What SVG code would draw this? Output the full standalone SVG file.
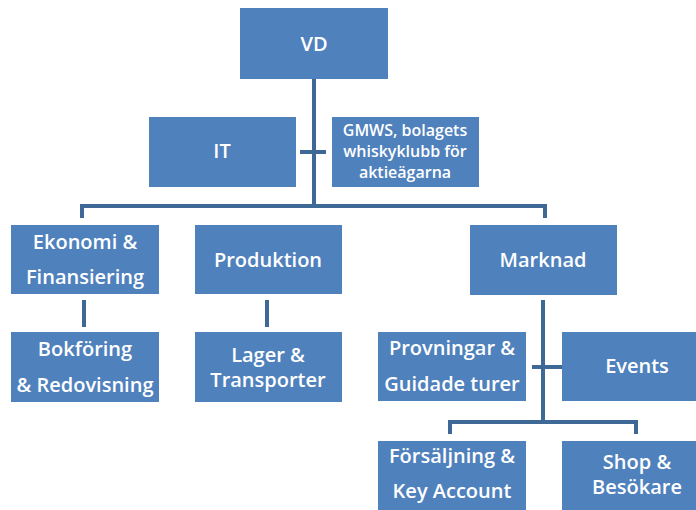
<svg xmlns="http://www.w3.org/2000/svg" width="696" height="510" viewBox="0 0 696 510">
<style>
.box{fill:#4F81BD}
.t{fill:#fff;font-family:"Open Sans","Liberation Sans",sans-serif;font-size:20px;font-weight:600;text-anchor:middle}
.s{font-size:16px}
.c{fill:none;stroke:#3E6896;stroke-width:4}
</style>
<rect width="696" height="510" fill="#fff"/>
<g id="connectors">
<path class="c" d="M314 79V206M82 218V206H545V218"/>
<path class="c" d="M300 152H326"/>
<path class="c" d="M84 300V327M267 300V327"/>
<path class="c" d="M543 300V422M450 434V422H636V434"/>
<path class="c" d="M532 367H562"/>
</g>
<g id="vd"><rect class="box" x="240" y="8" width="148" height="71"/><text class="t" x="314" y="51">VD</text></g>
<g id="it"><rect class="box" x="149" y="117" width="147" height="70"/><text class="t" x="222" y="158">IT</text></g>
<g id="gmws"><rect class="box" x="332" y="117" width="147" height="70"/><text class="t s" x="405" y="136">GMWS, bolagets</text><text class="t s" x="405" y="157">whiskyklubb för</text><text class="t s" x="405" y="178">aktieägarna</text></g>
<g id="ekonomi"><rect class="box" x="11" y="225" width="148" height="69"/><text class="t" x="85" y="249">Ekonomi &amp;</text><text class="t" x="85" y="284">Finansiering</text></g>
<g id="produktion"><rect class="box" x="195" y="225" width="147" height="69"/><text class="t" x="268" y="267">Produktion</text></g>
<g id="marknad"><rect class="box" x="470" y="225" width="147" height="70"/><text class="t" x="543" y="267">Marknad</text></g>
<g id="bokforing"><rect class="box" x="11" y="332" width="148" height="70"/><text class="t" x="85" y="356">Bokföring</text><text class="t" x="85" y="392">&amp; Redovisning</text></g>
<g id="lager"><rect class="box" x="195" y="332" width="147" height="70"/><text class="t" x="268" y="362">Lager &amp;</text><text class="t" x="268" y="387">Transporter</text></g>
<g id="provningar"><rect class="box" x="378" y="332" width="148" height="69"/><text class="t" x="452" y="355">Provningar &amp;</text><text class="t" x="452" y="391">Guidade turer</text></g>
<g id="events"><rect class="box" x="562" y="332" width="147" height="69"/><text class="t" x="637" y="373">Events</text></g>
<g id="forsaljning"><rect class="box" x="378" y="441" width="148" height="75"/><text class="t" x="452" y="463">Försäljning &amp;</text><text class="t" x="452" y="498">Key Account</text></g>
<g id="shop"><rect class="box" x="562" y="441" width="147" height="75"/><text class="t" x="637" y="469">Shop &amp;</text><text class="t" x="637" y="494">Besökare</text></g>
</svg>
